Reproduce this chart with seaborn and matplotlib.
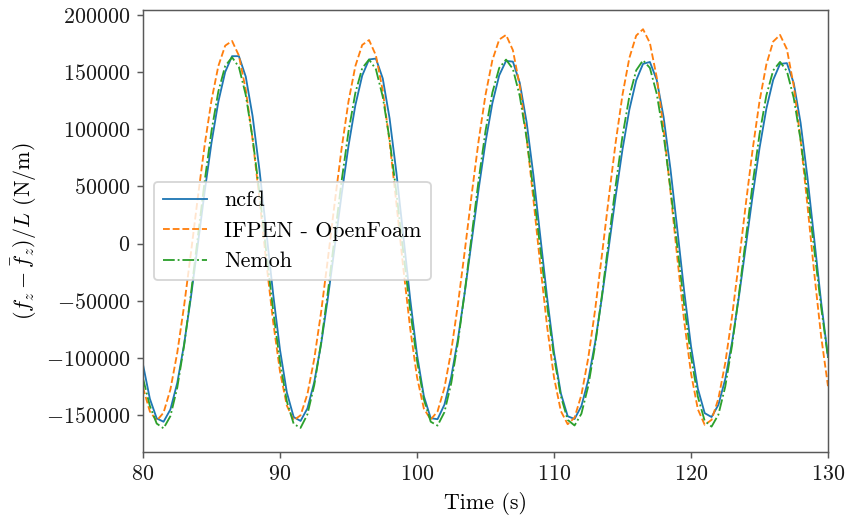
import numpy as np
import pandas as pd
import matplotlib
matplotlib.use("Agg")
import matplotlib.pyplot as plt
import seaborn as sns

# ---- data (time step 0.5 s) ----
time = [80 + 0.5 * i for i in range(101)]

ncfd = [
    -105900, -135800, -153000, -155900, -145200, -122000, -88200, -46700, -900, 45400,
    88300, 124200, 150200, 164000, 164000, 146100, 111500, 64500, 10600, -44200,
    -93000, -130300, -151900, -155200, -144300, -121300, -88000, -47200, -2200, 43200,
    85500, 121000, 147000, 161100, 161900, 144500, 109500, 61700, 6900, -48300,
    -97100, -133500, -152800, -153700, -141000, -116600, -82600, -41500, 3100, 47800,
    88700, 122800, 147200, 159900, 159200, 140700, 106300, 59600, 6300, -47400,
    -95100, -131100, -151100, -153500, -142200, -119400, -86800, -46900, -3000, 41300,
    82400, 117200, 142900, 157300, 158900, 143200, 110700, 65300, 12500, -41400,
    -89800, -127000, -148400, -151800, -141100, -118600, -86100, -46300, -2300, 42000,
    83400, 118000, 143300, 157200, 157900, 140400, 105600, 58000, 3300, -51300,
    -99100,
]

ifpen = [
    -126000, -146900, -155000, -148000, -127700, -95600, -54400, -8100, 40200, 86100,
    125500, 155400, 173200, 177300, 164500, 134700, 91200, 39100, -16400, -68500,
    -112000, -141800, -154600, -150300, -131800, -100900, -60000, -12900, 36400, 83500,
    124400, 155300, 173800, 178100, 164700, 133800, 88800, 34800, -21500, -74100,
    -116800, -144400, -154000, -146900, -126300, -93800, -52100, -5200, 43800, 90200,
    130100, 160400, 178500, 182600, 169200, 138000, 92800, 38200, -19000, -72900,
    -117100, -146600, -158100, -152300, -132400, -100100, -58100, -9900, 40300, 88400,
    130300, 162400, 182000, 187600, 175500, 145400, 100300, 45600, -12500, -67600,
    -113500, -145000, -158600, -154300, -135700, -104500, -63300, -15800, 34500, 82400,
    124400, 156700, 176800, 182600, 170100, 138000, 90500, 33400, -26300, -81400,
    -124800,
]

nemoh = [
    -118000, -142000, -157500, -161700, -151000, -126100, -89200, -44000, 5500, 54500,
    98500, 133100, 155400, 163000, 154500, 130100, 92200, 44800, -7400, -58500,
    -103700, -138100, -157800, -161300, -149500, -123900, -86800, -42000, 6800, 55000,
    98000, 131800, 153500, 161000, 152600, 128500, 91000, 44200, -7300, -57800,
    -102400, -136300, -155900, -159300, -147600, -122100, -85300, -40800, 7800, 55700,
    98400, 132000, 153600, 161000, 152800, 129200, 92400, 46300, -4400, -54600,
    -99200, -133500, -154300, -159200, -148900, -124700, -89200, -45200, 3000, 50700,
    94100, 128800, 151600, 160400, 153700, 131000, 94800, 48500, -2500, -53600,
    -98800, -134000, -155200, -160200, -149700, -125200, -88900, -44500, 4200, 52300,
    95600, 129600, 151500, 159000, 150900, 127400, 90800, 44800, -5600, -55600,
    -100000,
]

series_names = ["ncfd", "IFPEN - OpenFoam", "Nemoh"]
x_ticks = [80, 90, 100, 110, 120, 130]
y_ticks = [-150000, -100000, -50000, 0, 50000, 100000, 150000, 200000]

# ---- style ----
plt.rcParams["font.family"] = "serif"
plt.rcParams["font.serif"] = ["cmr10", "DejaVu Serif"]
plt.rcParams["mathtext.fontset"] = "cm"
plt.rcParams["axes.formatter.use_mathtext"] = True
plt.rcParams["axes.unicode_minus"] = True
plt.rcParams["font.size"] = 12

fig = plt.figure(figsize=(845 / 132, 516 / 132), dpi=132)
ax = fig.add_axes([143 / 845, 1 - 452 / 516, (828 - 143) / 845, (452 - 10) / 516])

df = pd.DataFrame({"t": time, "ncfd": ncfd, "ifpen": ifpen, "nemoh": nemoh})
pal = sns.color_palette("tab10")
sns.lineplot(data=df, x="t", y="ncfd", ax=ax, color=pal[0], lw=1.0,
             label=series_names[0])
sns.lineplot(data=df, x="t", y="ifpen", ax=ax, color=pal[1], lw=1.0,
             linestyle="--", label=series_names[1])
sns.lineplot(data=df, x="t", y="nemoh", ax=ax, color=pal[2], lw=1.0,
             linestyle="-.", label=series_names[2])

ax.set_xlim(80, 130)
ax.set_ylim(-182400, 204400)
ax.set_xticks(x_ticks)
ax.set_yticks(y_ticks)
ax.set_xticklabels([f"${v}$" for v in x_ticks])
ax.set_yticklabels([f"${v}$".replace("-", "-") for v in y_ticks])
ax.set_xlabel("Time (s)")
ax.set_ylabel(r"$(f_z-\bar{f}_z)/L$ (N/m)")

for s in ax.spines.values():
    s.set_color("0.35")
ax.tick_params(colors="0.35", labelcolor="0.1")

ax.legend(loc="center left")

fig.savefig("out.png", dpi=132)
